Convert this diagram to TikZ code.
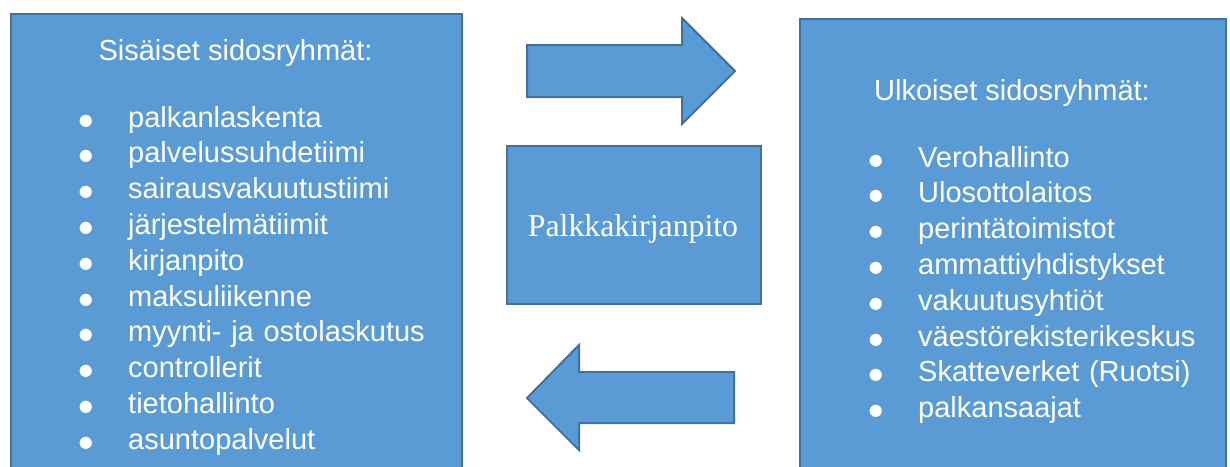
\documentclass[tikz,border=0pt]{standalone}
\usepackage{fontspec}
\setmainfont{Liberation Sans}
\newfontfamily\timesfont{Liberation Serif}
\newfontfamily\dotfont{DejaVu Sans}
\usepackage{tikz}
\usetikzlibrary{positioning}
\definecolor{boxfill}{HTML}{5B9BD5}
\definecolor{boxline}{HTML}{41719C}
\tikzset{
  box/.style={draw=boxline,fill=boxfill,line width=2pt,inner sep=0pt},
  head/.style={text=white,font=\fontsize{29}{35.8}\selectfont,inner sep=0pt,anchor=base},
  item/.style={text=white,font=\fontsize{29}{35.8}\selectfont,inner sep=0pt,
    text width=420pt,align=left,text height=22pt,text depth=7pt},
}
\newcommand{\bul}{\makebox[49.4pt][l]{\raisebox{2pt}{\dotfont\fontsize{16}{16}\selectfont ●}}}

\begin{document}
\begin{tikzpicture}[x=1pt,y=-1pt,node distance=35.8pt]
      \clip (0,0) rectangle (1230,466);
      \node[box,minimum width=451pt,minimum height=480pt,anchor=north west] (sis) at (10,13) {};
      \node[box,minimum width=426pt,minimum height=480pt,anchor=north west] (ulk) at (799,18) {};
      \node[box,minimum width=254pt,minimum height=158pt,anchor=north west] (palkka) at (506,145) {};
      \draw[box] (527,45) -- (682,45) -- (682,18) -- (735,71) -- (682,124) -- (682,97) -- (527,97) -- cycle;
      \draw[box] (734,372) -- (579,372) -- (579,345) -- (527,398) -- (579,450) -- (579,423) -- (734,423) -- cycle;
      \node[text=white,font=\timesfont\fontsize{31.8}{38}\selectfont,inner sep=0pt,anchor=base] (palkkat) at (633,236) {Palkkakirjanpito};
      \node[head] (sisotsikko) at (235.5,60) {Sisäiset sidosryhmät:};
      \node[item,anchor=base west] (s1) at (78.6,127) {\bul palkanlaskenta};
      \node[item] (s2) [below of=s1] {\bul palvelussuhdetiimi};
      \node[item] (s3) [below of=s2] {\bul sairausvakuutustiimi};
      \node[item] (s4) [below of=s3] {\bul järjestelmätiimit};
      \node[item] (s5) [below of=s4] {\bul kirjanpito};
      \node[item] (s6) [below of=s5] {\bul maksuliikenne};
      \node[item] (s7) [below of=s6] {\bul myynti- ja ostolaskutus};
      \node[item] (s8) [below of=s7] {\bul controllerit};
      \node[item] (s9) [below of=s8] {\bul tietohallinto};
      \node[item] (s10) [below of=s9] {\bul asuntopalvelut};
      \node[head] (ulkotsikko) at (1012,100) {Ulkoiset sidosryhmät:};
      \node[item,anchor=base west] (u1) at (868.6,167) {\bul Verohallinto};
      \node[item] (u2) [below of=u1] {\bul Ulosottolaitos};
      \node[item] (u3) [below of=u2] {\bul perintätoimistot};
      \node[item] (u4) [below of=u3] {\bul ammattiyhdistykset};
      \node[item] (u5) [below of=u4] {\bul vakuutusyhtiöt};
      \node[item] (u6) [below of=u5] {\bul väestörekisterikeskus};
      \node[item] (u7) [below of=u6] {\bul Skatteverket (Ruotsi)};
      \node[item] (u8) [below of=u7] {\bul palkansaajat};
    \end{tikzpicture}
\end{document}
